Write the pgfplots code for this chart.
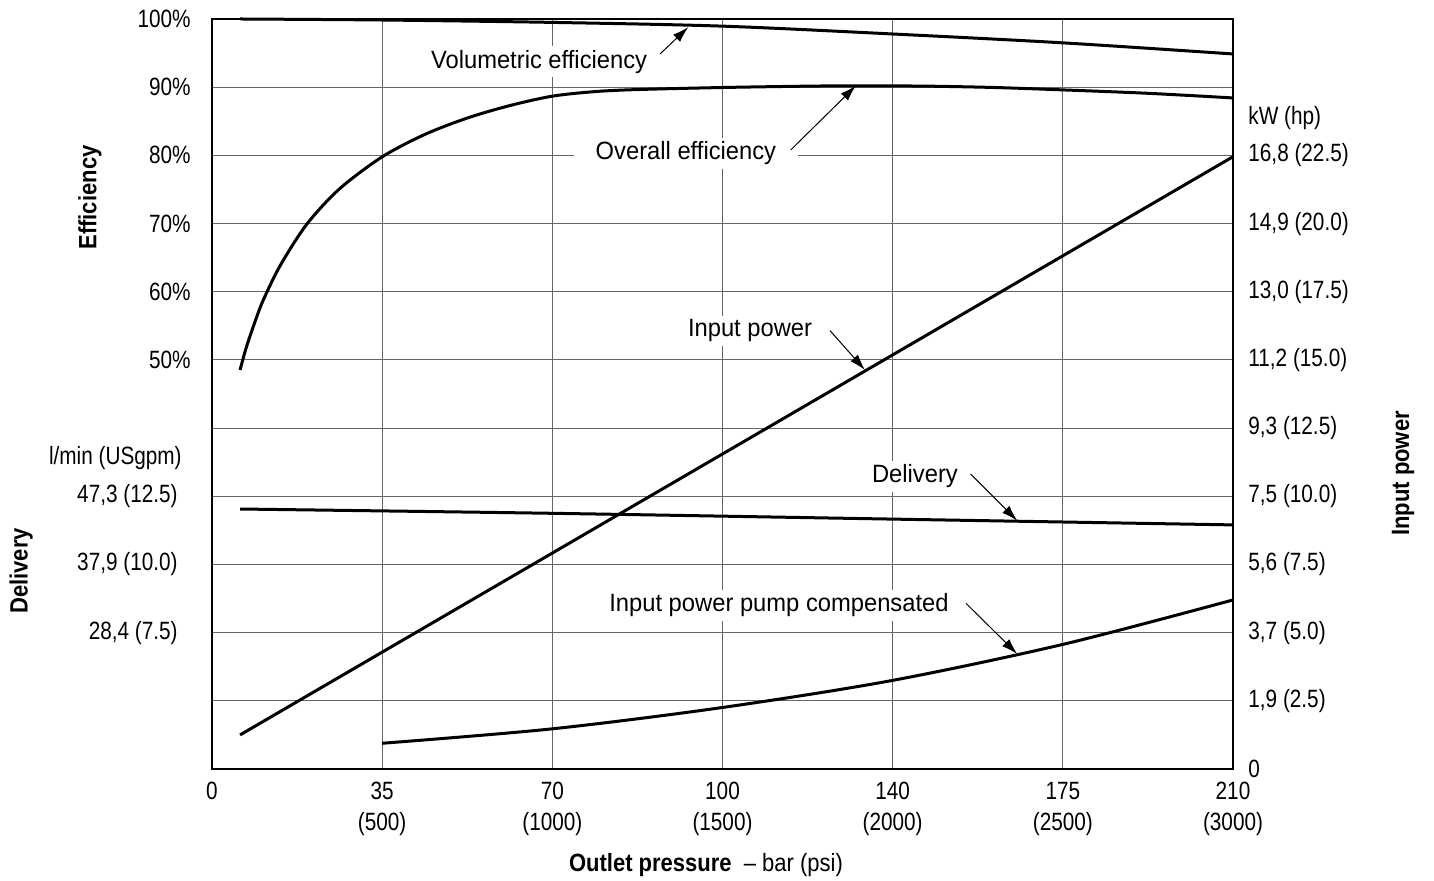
\documentclass[border=0pt]{standalone}
\usepackage{fontspec}
\setmainfont{Liberation Sans}[FakeStretch=0.95]
\newfontfamily\tickfont{Liberation Sans}[FakeStretch=0.83]
\newfontfamily\titlefont{Liberation Sans}[FakeStretch=0.88]
\usepackage{pgfplots}
\usepackage{pgfplotstable}
\pgfplotsset{compat=1.18}
\usetikzlibrary{arrows.meta}

\pgfplotstableread{
x y
0.165 11.0
1.0 10.985
2.0 10.95
3.0 10.895
4.0 10.78
5.0 10.65
6.0 10.487
}\volum

\pgfplotstableread{
x y
0.165 5.852
0.2 6.17
0.25 6.54
0.3 6.87
0.4 7.38
0.557 7.99
0.75 8.51
1.0 8.978
1.25 9.306
1.5 9.547
1.75 9.73
2.0 9.868
2.25 9.935
2.5 9.965
3.0 9.995
3.5 10.015
3.8 10.02
4.2 10.015
4.6 9.995
5.0 9.96
5.5 9.91
6.0 9.842
}\overall

\pgfplotstableread{
x y
0.165 0.5
6.0 8.98
}\inpower

\pgfplotstableread{
x y
0.165 3.813
2.0 3.75
4.0 3.665
6.0 3.58
}\delivery

\pgfplotstableread{
x y
0.999 0.377
1.992 0.587
2.991 0.899
3.99 1.295
5.003 1.829
6.0 2.479
}\pumpcomp

\begin{document}
\begin{tikzpicture}[
  lbl/.style={anchor=base, fill=white, inner xsep=5pt, inner ysep=2pt, font=\fontsize{12.5}{15}\selectfont},
  arr/.style={-{Latex[length=8pt,width=5pt]}, line width=0.5pt}]
\useasboundingbox (-106pt,-56pt) rectangle (611pt,384.5pt);
\begin{axis}[
  scale only axis, width=510.5pt, height=375pt,
  at={(0,0)}, anchor=south west,
  xmin=0, xmax=6, ymin=0, ymax=11,
  clip=false,
  xtick={0,...,6},
  xticklabels={0,{35\\(500)},{70\\(1000)},{100\\(1500)},{140\\(2000)},{175\\(2500)},{210\\(3000)}},
  ytick={0,...,11},
  yticklabels={{},{},{28,4 (7.5)\kern6.5pt},{37,9 (10.0)\kern6.5pt},{47,3 (12.5)\kern6.5pt},{},{50\%},{60\%},{70\%},{80\%},{90\%},{100\%}},
  major tick length=0pt,
  grid=major,
  major grid style={line width=0.5pt, black!60},
  axis line style={line width=1pt, black},
  xticklabel style={font=\fontsize{12.5}{15.5}\selectfont\tickfont, align=center, anchor=north, inner sep=0pt, yshift=-6.5pt},
  yticklabel style={font=\fontsize{12.5}{15}\selectfont\tickfont, anchor=east, inner sep=0pt, xshift=-10.5pt},
]
\addplot[line width=1.5pt, smooth, no marks] table {\volum};
\addplot[line width=1.5pt, smooth, no marks] table {\overall};
\addplot[line width=1.5pt, no marks] table {\inpower};
\addplot[line width=1.5pt, smooth, no marks] table {\delivery};
\addplot[line width=1.5pt, smooth, no marks] table {\pumpcomp};

\node[lbl] at (axis cs:1.922,10.277) {Volumetric efficiency};
\node[lbl, inner xsep=11pt] at (axis cs:2.785,8.932) {Overall efficiency};
\node[lbl] at (axis cs:3.162,6.336) {Input power};
\node[lbl] at (axis cs:4.131,4.195) {Delivery};
\node[lbl] at (axis cs:3.332,2.303) {Input power pump compensated};

\draw[arr] (axis cs:2.633,10.487) -- (axis cs:2.799,10.88);
\draw[arr] (axis cs:3.401,9.079) -- (axis cs:3.784,10.022);
\draw[arr] (axis cs:3.632,6.429) -- (axis cs:3.837,5.852);
\draw[arr] (axis cs:4.458,4.327) -- (axis cs:4.732,3.642);
\draw[arr] (axis cs:4.431,2.430) -- (axis cs:4.732,1.687);

\node[anchor=base east, inner sep=0pt, font=\fontsize{12.5}{15}\selectfont\tickfont] at (axis cs:-0.176,4.459) {l/min (USgpm)};
\node[anchor=base west, inner sep=0pt, font=\fontsize{12.5}{15}\selectfont\tickfont] at (axis cs:6.088,9.446) {kW (hp)};
\node[rotate=90, inner sep=0pt, font=\fontsize{12.5}{15}\selectfont\titlefont\bfseries] at (axis cs:-0.717,8.382) {Efficiency};
\node[rotate=90, inner sep=0pt, font=\fontsize{12.5}{15}\selectfont\titlefont\bfseries] at (axis cs:-1.122,2.904) {Delivery};
\node[rotate=90, inner sep=0pt, font=\fontsize{12.5}{15}\selectfont\titlefont\bfseries] at (axis cs:6.999,4.334) {Input power};
\node[anchor=base, inner sep=0pt, font=\fontsize{12.5}{15}\selectfont\titlefont] at (axis cs:2.903,-1.497) {\textbf{Outlet pressure}\ \ – bar (psi)};
\end{axis}
\begin{axis}[
  scale only axis, width=510.5pt, height=375pt,
  at={(0,0)}, anchor=south west,
  xmin=0, xmax=6, ymin=0, ymax=11,
  axis x line=none, axis y line*=right,
  ytick={0,...,9},
  yticklabels={{0},{1,9 (2.5)},{3,7 (5.0)},{5,6 (7.5)},{7,5 (10.0)},{9,3 (12.5)},{11,2 (15.0)},{13,0 (17.5)},{14,9 (20.0)},{16,8 (22.5)}},
  major tick length=0pt,
  axis line style={line width=1pt, black},
  yticklabel style={font=\fontsize{12.5}{15}\selectfont\tickfont, anchor=west, inner sep=0pt, xshift=7.5pt},
]
\end{axis}
\end{tikzpicture}
\end{document}
